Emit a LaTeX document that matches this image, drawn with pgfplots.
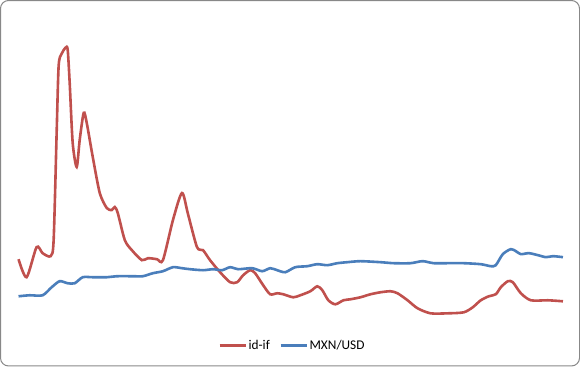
\documentclass[border=0pt]{standalone}
\usepackage{fontspec}
\setmainfont{Carlito}
\usepackage{pgfplots}
\pgfplotsset{compat=1.18}
\definecolor{exred}{HTML}{C0504D}
\definecolor{exblue}{HTML}{4A7EBB}
\definecolor{frame}{HTML}{888888}
\begin{document}
\begin{tikzpicture}
\begin{axis}[
  width=580bp, height=367bp, scale only axis,
  xmin=0, xmax=580, ymin=0, ymax=367, y dir=reverse,
  hide axis, clip=false,
  legend columns=2,
  legend style={draw=none, fill=none, at={(0.5034,0.06)}, anchor=center,
    font=\fontsize{13.3bp}{15bp}\selectfont, inner sep=0pt,
    /tikz/every even column/.append style={column sep=8bp},
    nodes={inner sep=1.5bp}},
  legend image code/.code={\draw[#1] (0bp,0bp) -- (26bp,0bp);},
]
\draw[frame, line width=1bp, rounded corners=8bp] (axis cs:1,1) rectangle (axis cs:578.5,365.5);
\addplot[exred, line width=2.6bp, smooth, tension=0.45] coordinates {
(19,259) (27,277) (37,247) (43,253) (51,256) (54,240) (57,133) (59,66) (62,54) (66,48) (68,50)
(70,83) (73,143) (77,167) (80,140) (84,113) (87,123) (93,157) (100,193) (107,208) (112,210)
(115,207) (118,213) (125,240) (132,250) (142,260) (148,258) (157,259) (163,260) (173,220) (182,193)
(188,214) (197,247) (203,250) (210,260) (220,272) (230,282) (237,282) (243,275) (250,270) (255,273)
(263,285) (270,294) (277,293) (283,294) (293,297) (300,295) (310,291) (317,286) (322,290) (328,300)
(335,304) (343,300) (350,299) (360,297) (370,294) (380,292) (390,291) (397,293) (407,300) (417,308)
(430,313) (447,313) (463,312) (472,307) (480,300) (488,296) (495,294) (500,287) (507,281) (512,282)
(520,293) (530,300) (547,300) (562,301)
};
\addlegendentry{id-if}
\addplot[exblue, line width=2.6bp, smooth, tension=0.45] coordinates {
(19,296) (30,295) (43,295) (52,287) (60,281) (68,283) (75,283) (83,277) (93,277) (107,277)
(117,276) (133,276) (143,276) (153,273) (163,271) (173,267) (182,268) (190,269) (203,270) (213,269)
(222,270) (230,267) (238,269) (252,268) (262,271) (270,268) (277,270) (285,272) (295,267) (307,266)
(317,264) (327,265) (337,263) (347,262) (360,261) (380,262) (393,263) (410,263) (422,261) (433,263)
(447,263) (463,263) (480,264) (490,266) (495,265) (502,254) (510,249) (515,251) (520,254) (528,253)
(537,255) (545,257) (552,256) (562,257)
};
\addlegendentry{MXN/USD}
\end{axis}
\end{tikzpicture}
\end{document}
